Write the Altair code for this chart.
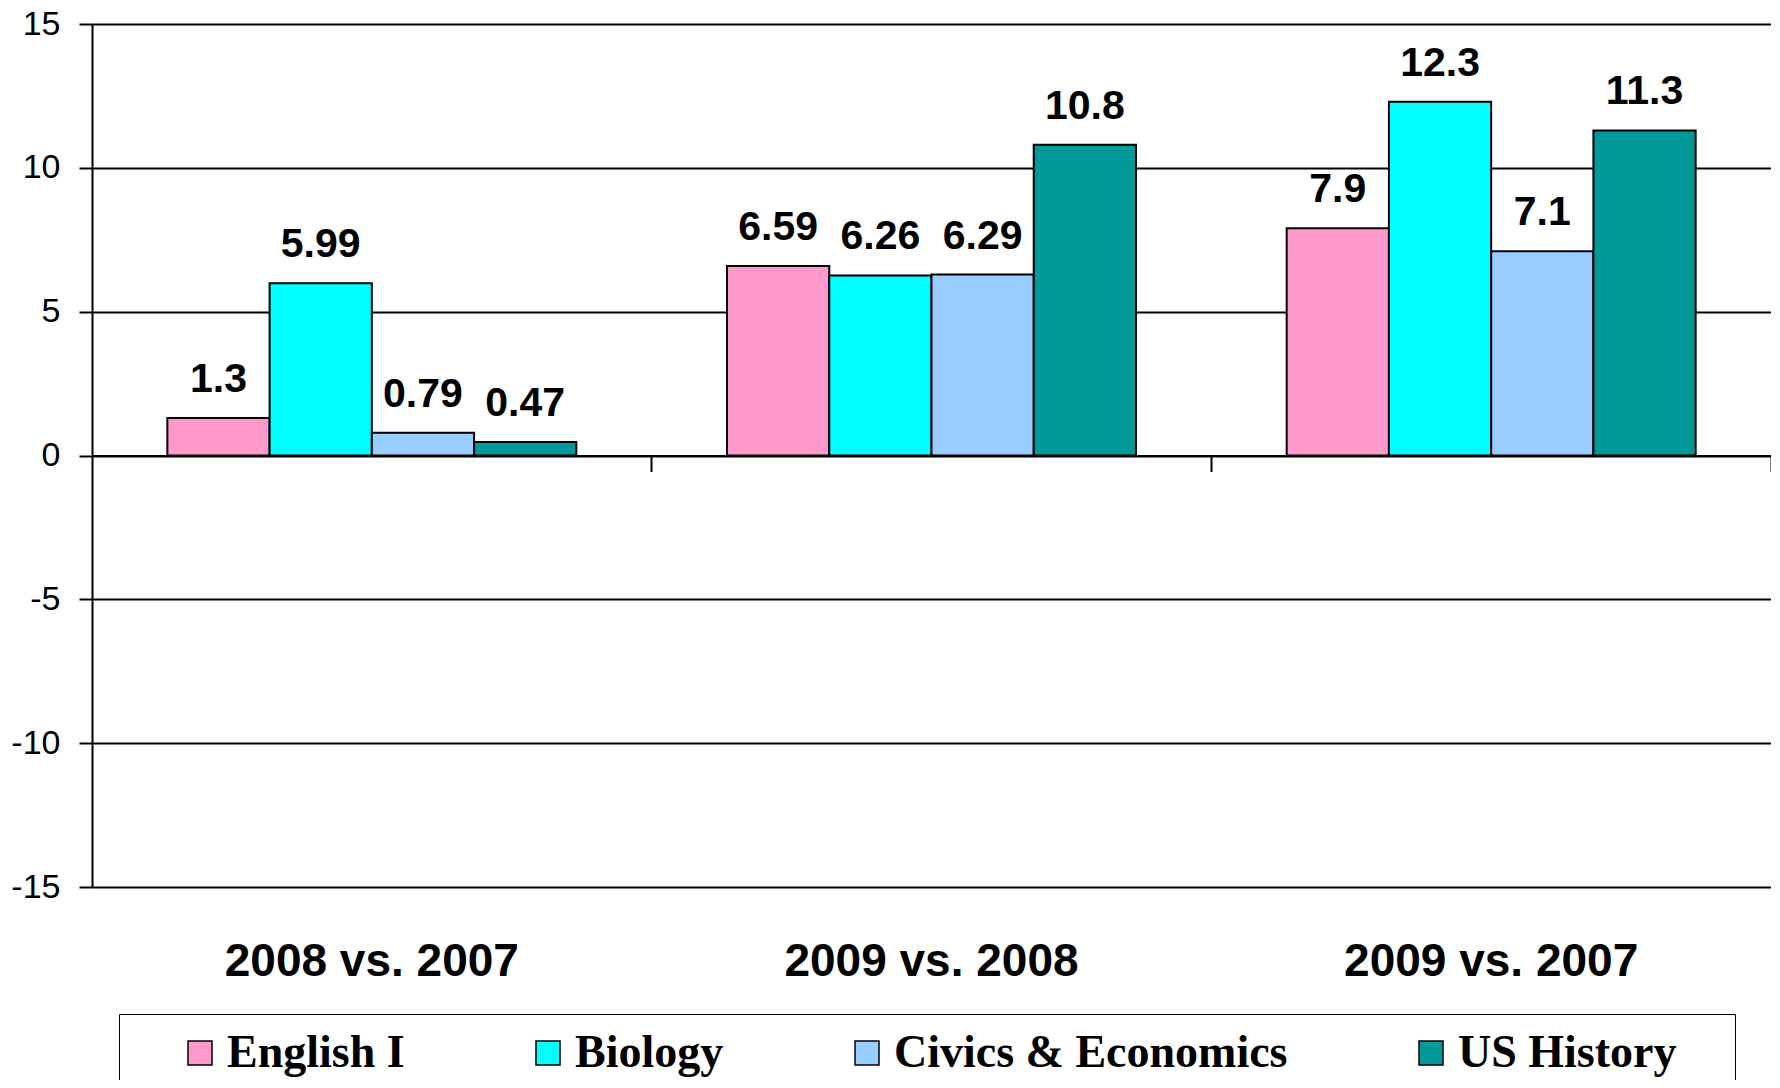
import altair as alt
import pandas as pd

categories = ["2008 vs. 2007", "2009 vs. 2008", "2009 vs. 2007"]
subjects = ["English I", "Biology", "Civics & Economics", "US History"]
english = [1.3, 6.59, 7.9]
biology = [5.99, 6.26, 12.3]
civics = [0.79, 6.29, 7.1]
history = [0.47, 10.8, 11.3]
colors = ["#FF99CC", "#00FFFF", "#99CCFF", "#009999"]
y_ticks = [-15, -10, -5, 0, 5, 10, 15]

rows = []
for s, vals in zip(subjects, [english, biology, civics, history]):
    for c, v in zip(categories, vals):
        rows.append({"comparison": c, "subject": s, "value": v})
df = pd.DataFrame(rows)

W, H = 1679, 863

x_enc = alt.X(
    "comparison:N", sort=categories, title=None,
    scale=alt.Scale(paddingInner=0, paddingOuter=0),
    axis=alt.Axis(
        offset=-H / 2, domain=True, domainColor="black", domainWidth=2,
        ticks=True, tickColor="black", tickWidth=2, tickSize=16, bandPosition=1,
        labels=True, labelPadding=490, labelAngle=0, labelFont="Liberation Sans",
        labelFontSize=46, labelFontWeight="bold", labelColor="black",
        labelBaseline="middle", labelLimit=1000, grid=False,
    ),
)
xoff_enc = alt.XOffset(
    "subject:N", sort=subjects,
    scale=alt.Scale(paddingOuter=0.737, paddingInner=0),
)
y_enc = alt.Y(
    "value:Q", title=None,
    scale=alt.Scale(domain=[-15, 15], nice=False, zero=False),
    axis=alt.Axis(
        values=y_ticks, grid=True, gridColor="black", gridWidth=2, gridOpacity=1,
        domain=True, domainColor="black", domainWidth=2,
        ticks=True, tickColor="black", tickWidth=2, tickSize=13,
        labelPadding=19, labelFont="Liberation Sans", labelFontSize=34,
        labelColor="black", labelExpr="toString(datum.value)",
    ),
)

base = alt.Chart(df).encode(x=x_enc, xOffset=xoff_enc, y=y_enc)

bars = base.mark_bar(stroke="black", strokeWidth=2).encode(
    color=alt.Color(
        "subject:N", sort=subjects,
        scale=alt.Scale(domain=subjects, range=colors),
        legend=alt.Legend(
            title="\u00a0", titleOrient="right", titlePadding=42, titleFontSize=46,
            orient="none", legendX=27, legendY=990, direction="horizontal", columns=4,
            symbolType="square", symbolSize=576, symbolStrokeColor="black",
            symbolStrokeWidth=1.5, symbolOffset=42, labelOffset=4,
            labelFont="Liberation Serif", labelFontSize=46, labelFontWeight="bold",
            labelColor="black", labelLimit=1000, columnPadding=78, padding=16,
            strokeColor="black", fillColor="white", symbolOpacity=1,
        ),
    )
)

labels = base.mark_text(
    font="Liberation Sans", fontSize=41, fontWeight="bold", color="black",
    baseline="alphabetic", dy=-26, align="center",
).encode(text=alt.Text("value:Q"))

chart = (
    alt.layer(bars, labels)
    .properties(
        width=W, height=H,
        autosize=alt.AutoSizeParams(type="none"),
        padding={"left": 84, "top": 16, "right": 0, "bottom": 193},
        background="white",
    )
    .configure_view(strokeWidth=0)
)

chart.save("out.html", embed_options={"renderer": "svg", "actions": False})
